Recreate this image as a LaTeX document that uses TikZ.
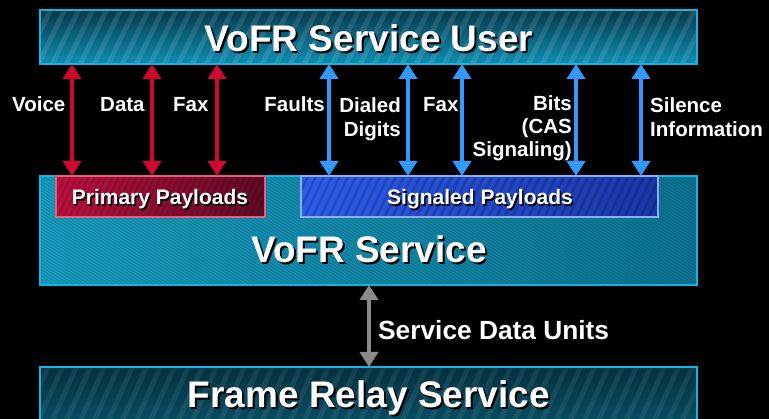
\documentclass[tikz,border=0pt]{standalone}
\usepackage{fontspec}
\setmainfont{Liberation Sans}
\usetikzlibrary{arrows.meta,calc}

\definecolor{boxedge}{HTML}{12B4E4}
\definecolor{topA}{HTML}{06394C}
\definecolor{topB}{HTML}{0E8EB2}
\definecolor{midA}{HTML}{18A2C6}
\definecolor{midB}{HTML}{0D7898}
\definecolor{lowA}{HTML}{05303F}
\definecolor{lowB}{HTML}{0A5A72}
\definecolor{primA}{HTML}{B8103E}
\definecolor{primB}{HTML}{5E0A24}
\definecolor{primedge}{HTML}{E0607C}
\definecolor{sigA}{HTML}{2C5CEA}
\definecolor{sigB}{HTML}{1A36A8}
\definecolor{sigedge}{HTML}{8CAEF0}
\definecolor{redflow}{HTML}{CC0A30}
\definecolor{blueflow}{HTML}{3399FF}
\definecolor{greyflow}{HTML}{8A8A8A}

\tikzset{
  layerbox/.style={inner sep=0pt, outer sep=0pt, anchor=north west},
  rimline/.style={draw=#1, line width=2pt},
  widestripe/.style={white, opacity=#1, line width=5pt},
  finestripe/.style={black, opacity=#1, line width=1.6pt},
  title/.style={font=\fontsize{37}{40}\selectfont\bfseries, text=white, anchor=base, inner sep=0pt},
  titleshade/.style={title, text=black},
  tag/.style={font=\fontsize{21}{24}\selectfont\bfseries, text=white, anchor=base, inner sep=0pt},
  tagshade/.style={tag, text=black},
  lbl/.style={font=\fontsize{20.5}{24.5}\selectfont\bfseries, text=white, inner sep=0pt},
  flow/.style={line width=4pt, arrows={Triangle[width=18pt,length=15pt]-Triangle[width=18pt,length=15pt]}},
}

\begin{document}
\begin{tikzpicture}[x=1pt, y=-1pt]
\useasboundingbox[fill=black] (0,0) rectangle (769,419);
\clip (0,0) rectangle (769,419);

% ---- layer boxes (fill only; rims drawn after the stripes) ----
\node[layerbox, top color=topA, bottom color=topB,
      minimum width=657pt, minimum height=54pt] (user) at (40,10) {};
\node[layerbox, left color=midA, right color=midB,
      minimum width=657pt, minimum height=109pt] (svc) at (40,176) {};
\node[layerbox, top color=lowA, bottom color=lowB,
      minimum width=657pt, minimum height=80pt] (frame) at (40,367) {};

% stripes of the user layer
\begin{scope}
  \clip (user.north west) rectangle (user.south east);
  \foreach \k in {-60,-46,...,680}
    \draw[widestripe=0.11] ($(user.south west)+(\k,5)$) -- ++(32,-66);
\end{scope}
% fine stripes of the service layer
\begin{scope}
  \clip (svc.north west) rectangle (svc.south east);
  \foreach \k in {-200,-195,...,680}
    \draw[finestripe=0.13] ($(svc.north west)+(\k,-5)$) -- ++(190,120);
\end{scope}
% stripes of the frame relay layer
\begin{scope}
  \clip (frame.north west) rectangle (frame.south east);
  \foreach \k in {-60,-46,...,680}
    \draw[widestripe=0.07] ($(frame.north west)+(\k,90)$) -- ++(45,-100);
\end{scope}
\draw[rimline=boxedge] (user.north west) rectangle (user.south east);
\draw[rimline=boxedge] (svc.north west) rectangle (svc.south east);
\draw[rimline=boxedge] (frame.north west) rectangle (frame.south east);

% ---- payload boxes ----
\node[layerbox, left color=primA, right color=primB,
      minimum width=209pt, minimum height=41pt] (prim) at (56,176) {};
\node[layerbox, left color=sigA, right color=sigB,
      minimum width=357pt, minimum height=41pt] (sig) at (301,176) {};
\begin{scope}
  \clip (prim.north west) rectangle (prim.south east);
  \foreach \k in {-30,-24,...,220}
    \draw[finestripe=0.12] ($(prim.south west)+(\k,3)$) -- ++(24,-50);
\end{scope}
\begin{scope}
  \clip (sig.north west) rectangle (sig.south east);
  \foreach \k in {-30,-22,...,370}
    \draw[finestripe=0.16, line width=2.5pt] ($(sig.south west)+(\k,3)$) -- ++(24,-50);
\end{scope}
\draw[draw=primedge, line width=1.5pt] (prim.north west) rectangle (prim.south east);
\draw[draw=sigedge, line width=1.5pt] (sig.north west) rectangle (sig.south east);

% ---- box titles with drop shadows ----
\node[titleshade] (usershade) at (371,54) {VoFR Service User};
\node[title] (usertxt) at (369,52) {VoFR Service User};
\node[titleshade] (svcshade) at (371,265) {VoFR Service};
\node[title] (svctxt) at (369,263) {VoFR Service};
\node[titleshade] (frameshade) at (371,410) {Frame Relay Service};
\node[title] (frametxt) at (369,408) {Frame Relay Service};
\node[tagshade] (primshade) at (161.5,206.5) {Primary Payloads};
\node[tag] (primtxt) at (160,205) {Primary Payloads};
\node[tagshade] (sigshade) at (481.5,206.5) {Signaled Payloads};
\node[tag] (sigtxt) at (480,205) {Signaled Payloads};

% ---- arrow positions ----
\coordinate (xvoice) at (72,0);
\coordinate (xdata) at (152,0);
\coordinate (xfaxa) at (217,0);
\coordinate (xfaults) at (329,0);
\coordinate (xdialed) at (408,0);
\coordinate (xfaxb) at (462,0);
\coordinate (xbits) at (576,0);
\coordinate (xsilence) at (641,0);

% primary payload flows
\draw[flow, redflow] (user.south -| xvoice) -- (prim.north -| xvoice);
\draw[flow, redflow] (user.south -| xdata) -- (prim.north -| xdata);
\draw[flow, redflow] (user.south -| xfaxa) -- (prim.north -| xfaxa);
% signaled payload flows
\draw[flow, blueflow] (user.south -| xfaults) -- (sig.north -| xfaults);
\draw[flow, blueflow] (user.south -| xdialed) -- (sig.north -| xdialed);
\draw[flow, blueflow] (user.south -| xfaxb) -- (sig.north -| xfaxb);
\draw[flow, blueflow] (user.south -| xbits) -- (sig.north -| xbits);
\draw[flow, blueflow] (user.south -| xsilence) -- (sig.north -| xsilence);
% service data units
\coordinate (xsdu) at (369,0);
\draw[flow, greyflow] (svc.south -| xsdu) -- (frame.north -| xsdu);

% ---- flow labels ----
\node[lbl, anchor=base west] (lvoice) at (12,112) {Voice};
\node[lbl, anchor=base west] (ldata) at (100,112) {Data};
\node[lbl, anchor=base west] (lfaxa) at (173,112) {Fax};
\node[lbl, anchor=base east] (lfaults) at (325,112) {Faults};
\node[lbl, anchor=base east, align=right] (ldialed) at (401,137) {Dialed\\Digits};
\node[lbl, anchor=base west] (lfaxb) at (423,112) {Fax};
\node[lbl, anchor=base east, align=right, font=\fontsize{20.5}{23}\selectfont\bfseries] (lbits) at (572,157) {Bits\\(CAS\\Signaling)};
\node[lbl, anchor=base west, align=left] (lsilence) at (650,137) {Silence\\Information};
\node[lbl, anchor=base west, font=\fontsize{26.3}{29}\selectfont\bfseries] (lsdu) at (378,340) {Service Data Units};
\end{tikzpicture}
\end{document}
